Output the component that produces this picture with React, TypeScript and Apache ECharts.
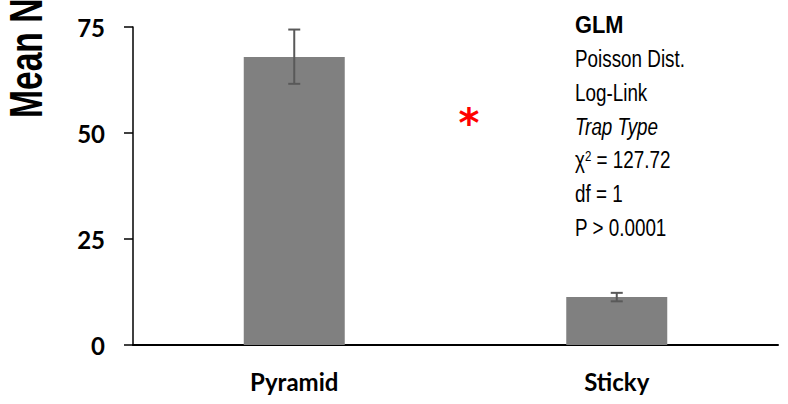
import React, { useEffect, useRef } from "react";
import * as echarts from "echarts";

const categories = ["Pyramid", "Sticky"];
const means = [67.9, 11.3];
const errLow = [61.6, 10.3];
const errHigh = [74.4, 12.3];
const yTicks = { min: 0, max: 75, interval: 25 };
const yAxisTitle = "Mean N";
const statLines = ["GLM", "Poisson Dist.", "Log-Link", "Trap Type", "χ2", "df = 1", "P > 0.0001"];

export default function App() {
  const ref = useRef<HTMLDivElement>(null);
  useEffect(() => {
    const chart = echarts.init(ref.current!, null, { renderer: "svg" });
    const sans = "'Liberation Sans', Arial, sans-serif";
    const lineX = 575;
    const lineY0 = 25;
    const lineStep = 33.8;
    const narrowScale = 0.82;
    const mk = (i: number, style: any, scale = narrowScale) => ({
      type: "text",
      x: lineX,
      y: lineY0 + lineStep * i,
      scaleX: scale,
      style: { fill: "#000", verticalAlign: "middle", ...style },
    });
    const statGraphics: any[] = [
      mk(0, { text: statLines[0], font: `bold 23px ${sans}` }, 0.95),
      mk(1, { text: statLines[1], font: `23px ${sans}` }),
      mk(2, { text: statLines[2], font: `23px ${sans}` }),
      mk(3, { text: statLines[3], font: `italic 23px ${sans}` }),
      mk(4, {
        text: "{a|χ}{s|2}{a| = 127.72}",
        rich: {
          a: { font: `23px ${sans}`, fill: "#000", verticalAlign: "bottom" },
          s: { font: `14px ${sans}`, fill: "#000", verticalAlign: "top" },
        },
      }),
      mk(5, { text: statLines[5], font: `23px ${sans}` }),
      mk(6, { text: statLines[6], font: `23px ${sans}` }),
    ];

    chart.setOption({
      animation: false,
      backgroundColor: "#fff",
      grid: { left: 133, right: 10, top: 27, bottom: 59, containLabel: false },
      xAxis: {
        type: "category",
        data: categories,
        axisLine: { lineStyle: { color: "#000", width: 2 } },
        axisTick: { show: false },
        axisLabel: { color: "#000", fontFamily: "Lato", fontWeight: "bold", fontSize: 24, margin: 24 },
      },
      yAxis: {
        type: "value",
        min: yTicks.min,
        max: yTicks.max,
        interval: yTicks.interval,
        splitLine: { show: false },
        axisLine: { show: true, lineStyle: { color: "#000", width: 1.5 } },
        axisTick: { show: true, length: 9, lineStyle: { color: "#000", width: 1.5 } },
        axisLabel: { color: "#000", fontFamily: "Lato", fontWeight: "bold", fontSize: 24, margin: 28 },
      },
      series: [
        {
          type: "bar",
          data: means,
          barWidth: 101,
          itemStyle: { color: "#808080" },
        },
        {
          type: "custom",
          data: categories.map((_, i) => [i, errLow[i], errHigh[i]]),
          renderItem: (params: any, api: any) => {
            const x = api.value(0);
            const lo = api.coord([x, api.value(1)]);
            const hi = api.coord([x, api.value(2)]);
            const hw = 6;
            const style = { stroke: "#595959", lineWidth: 2 };
            return {
              type: "group",
              children: [
                { type: "line", shape: { x1: hi[0], y1: hi[1], x2: lo[0], y2: lo[1] }, style },
                { type: "line", shape: { x1: hi[0] - hw, y1: hi[1], x2: hi[0] + hw, y2: hi[1] }, style },
                { type: "line", shape: { x1: lo[0] - hw, y1: lo[1], x2: lo[0] + hw, y2: lo[1] }, style },
              ],
            };
          },
          z: 5,
        },
      ],
      graphic: [
        {
          type: "group",
          x: 27,
          y: 118,
          rotation: Math.PI / 2,
          children: [
            {
              type: "text",
              x: 0,
              y: 0,
              scaleX: 0.73,
              style: {
                text: yAxisTitle,
                font: `bold 46px ${sans}`,
                fill: "#000",
                align: "left",
                verticalAlign: "middle",
              },
            },
          ],
        },
        {
          type: "text",
          x: 469,
          y: 123,
          style: {
            text: "*",
            font: "bold 40px 'DejaVu Sans', sans-serif",
            fill: "#ff0000",
            align: "center",
            verticalAlign: "middle",
          },
        },
        ...statGraphics,
      ],
    });
    return () => chart.dispose();
  }, []);
  return <div ref={ref} style={{ width: 788, height: 404, position: "absolute", left: 0, top: 0 }} />;
}
